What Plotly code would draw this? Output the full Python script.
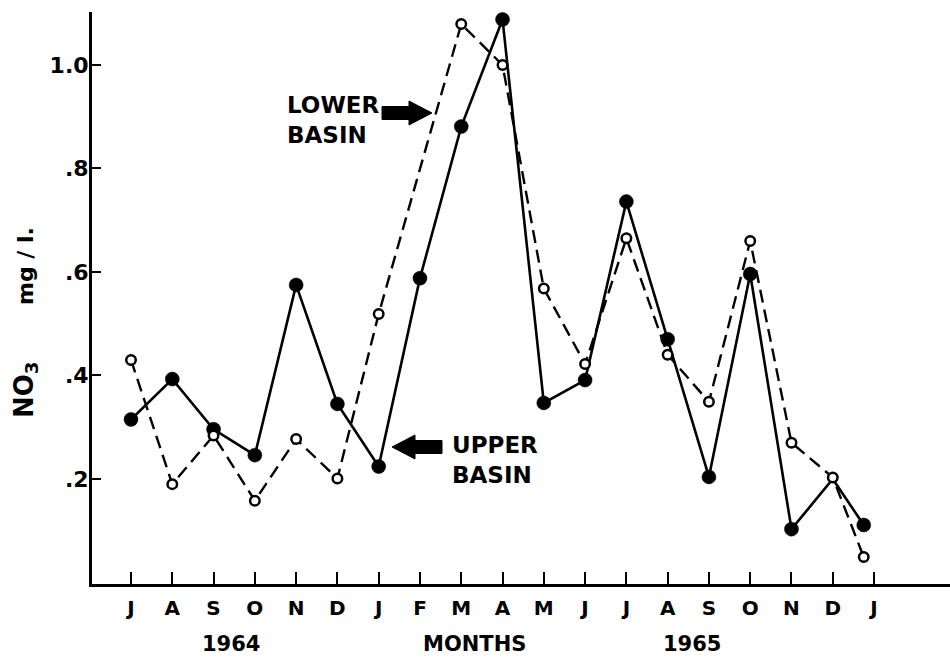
import plotly.graph_objects as go

# Monthly NO3 (mg/l) from July 1964 to January 1966
months = ["J", "A", "S", "O", "N", "D", "J", "F", "M", "A",
          "M", "J", "J", "A", "S", "O", "N", "D", "J"]
month_pos = list(range(len(months)))

# sampling position in month units (last sample taken late December)
sample_pos = [0, 1, 2, 3, 4, 5, 6, 7, 8, 9, 10, 11, 12, 13, 14, 15, 16, 17, 17.75]

upper_basin = [0.315, 0.393, 0.296, 0.246, 0.575, 0.345, 0.224, 0.588, 0.881, 1.088,
               0.347, 0.391, 0.736, 0.470, 0.204, 0.596, 0.103, 0.200, 0.111]
lower_basin = [0.430, 0.190, 0.284, 0.158, 0.277, 0.201, 0.519, None, 1.079, 1.000,
               0.568, 0.422, 0.665, 0.440, 0.349, 0.660, 0.270, 0.203, 0.049]

y_ticks = [0.2, 0.4, 0.6, 0.8, 1.0]
y_tick_text = [".2", ".4", ".6", ".8", "1.0"]

W, H = 950, 659
L, R, T, B = 92, 0, 12, 75
PW, PH = W - L - R, H - T - B

def px(x):
    return (x - L) / PW

def py(y):
    return (H - B - y) / PH

FONT = "DejaVu Sans"
INK = "black"

fig = go.Figure()

# upper basin: solid line, filled dots (Dec 1965 dot sits under the open circle)
upper_sizes = [0 if i == 17 else 14 for i in range(len(upper_basin))]
fig.add_trace(go.Scatter(
    x=sample_pos, y=upper_basin, mode="lines+markers",
    line=dict(color=INK, width=2.6),
    marker=dict(color=INK, size=upper_sizes, opacity=1, line=dict(color=INK, width=0.5)),
    showlegend=False, hoverinfo="skip"))

# lower basin: dashed line, open circles
fig.add_trace(go.Scatter(
    x=sample_pos, y=lower_basin, mode="lines+markers", connectgaps=True,
    line=dict(color=INK, width=2.4, dash="13px,7px"),
    marker=dict(color="white", size=9.5, opacity=1, line=dict(color=INK, width=2.5)),
    showlegend=False, hoverinfo="skip"))

def block_arrow(tip_x, tip_y, direction, head_len=23, head_half=12, body_len=27, body_half=6.5):
    d = direction
    bx = tip_x - d * head_len
    ex = bx - d * body_len
    pts = [(tip_x, tip_y), (bx, tip_y - head_half), (bx, tip_y - body_half),
           (ex, tip_y - body_half), (ex, tip_y + body_half), (bx, tip_y + body_half),
           (bx, tip_y + head_half)]
    path = "M " + " L ".join(f"{px(x):.5f},{py(y):.5f}" for x, y in pts) + " Z"
    return dict(type="path", xref="paper", yref="paper", path=path,
                fillcolor=INK, line=dict(color=INK, width=1))

shapes = [block_arrow(432, 113, 1), block_arrow(392, 447, -1)]

annotations = [
    dict(x=px(285), y=py(120), xref="paper", yref="paper", xanchor="left", yanchor="middle",
         text="LOWER<br>BASIN", align="left", showarrow=False,
         font=dict(family=FONT, size=23, color=INK, weight="bold")),
    dict(x=px(450), y=py(460), xref="paper", yref="paper", xanchor="left", yanchor="middle",
         text="UPPER<br>BASIN", align="left", showarrow=False,
         font=dict(family=FONT, size=23, color=INK, weight="bold")),
    dict(x=px(231), y=py(644), xref="paper", yref="paper", xanchor="center", yanchor="middle",
         text="1964", showarrow=False, font=dict(family=FONT, size=21, color=INK, weight="bold")),
    dict(x=px(474), y=py(644), xref="paper", yref="paper", xanchor="center", yanchor="middle",
         text="MONTHS", showarrow=False, font=dict(family=FONT, size=21, color=INK, weight="bold")),
    dict(x=px(692), y=py(644), xref="paper", yref="paper", xanchor="center", yanchor="middle",
         text="1965", showarrow=False, font=dict(family=FONT, size=21, color=INK, weight="bold")),
    dict(x=px(25), y=py(266), xref="paper", yref="paper", xanchor="center", yanchor="middle",
         text="mg / l.", textangle=-90, showarrow=False,
         font=dict(family=FONT, size=22, color=INK, weight="bold")),
    dict(x=px(25), y=py(390), xref="paper", yref="paper", xanchor="center", yanchor="middle",
         text="NO<sub>3</sub>", textangle=-90, showarrow=False,
         font=dict(family=FONT, size=26, color=INK, weight="bold")),
]

tick_font = dict(family=FONT, size=20, color=INK, weight="bold")

fig.update_layout(
    width=W, height=H,
    margin=dict(l=L, r=R, t=T, b=B, pad=0),
    paper_bgcolor="white", plot_bgcolor="white",
    shapes=shapes, annotations=annotations,
    xaxis=dict(
        range=[-0.945, 19.84], tickmode="array", tickvals=month_pos, ticktext=months,
        ticks="inside", ticklen=12, tickwidth=2, tickcolor=INK,
        showline=True, linewidth=3, linecolor=INK, showgrid=False, zeroline=False,
        tickfont=tick_font, ticklabelstandoff=4),
    yaxis=dict(
        range=[-0.003, 1.1024], tickmode="array", tickvals=y_ticks, ticktext=y_tick_text,
        ticks="inside", ticklen=9, tickwidth=2, tickcolor=INK,
        showline=True, linewidth=3, linecolor=INK, showgrid=False, zeroline=False,
        tickfont=dict(family=FONT, size=22, color=INK, weight="bold"), ticklabelstandoff=-4),
)

fig.write_html("out.html")
